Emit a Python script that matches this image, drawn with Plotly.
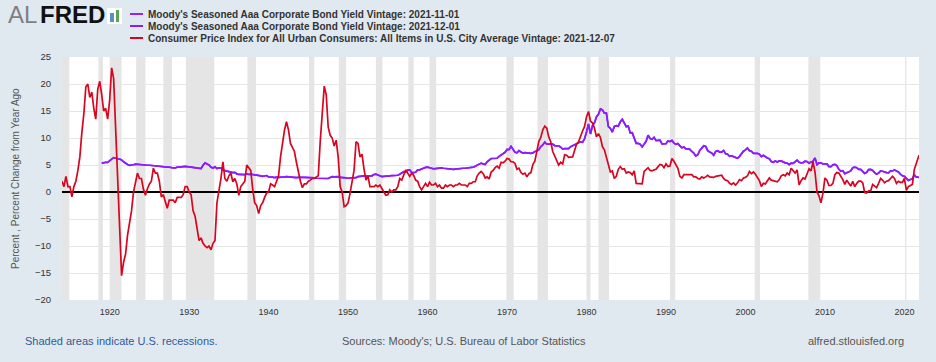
import pandas as pd
import plotly.graph_objects as go

# ---------------- data (quarterly readings: Jan, Apr, Jul, Oct) ----------------
cpi_1910s = [2.0, 1.0, 2.9, 1.0,  1.0, -0.9, 1.0, 2.0,  4.0, 6.5, 11.0, 14.5,
             19.5, 20.0, 17.5, 18.5,  15.5, 13.5, 19.0, 20.5,  18.0, 15.0, 15.5, 13.5]
cpi_1920s = [17.0, 23.0, 21.0, 11.5,  1.0, -9.0, -15.5, -13.0,  -11.5, -8.0, -5.5, -3.5,
             0.0, 1.5, 3.5, 2.5,  2.5, 0.5, -0.6, 0.6,  1.5, 2.0, 4.4, 3.5,
             3.5, 2.0, -0.9, -0.5,  -2.0, -3.0, -1.5, -1.5,  -1.5, -2.0, -1.0, -1.0,
             -1.0, -0.5, 1.0, 1.0]
cpi_1930s = [0.0, -0.5, -3.5, -4.5,  -7.0, -9.0, -8.5, -9.5,  -10.0, -10.3, -10.0, -10.7,
             -9.5, -9.0, -2.0, 0.0,  2.5, 5.6, 2.5, 2.0,  3.0, 3.5, 1.9, 2.5,
             1.5, -0.6, 1.0, 1.5,  2.0, 5.0, 4.5, 4.0,  0.5, -2.0, -2.5, -4.0,
             -2.5, -2.0, -1.0, -0.2]
cpi_1940s = [0.0, 1.5, 1.3, 1.0,  2.0, 3.0, 6.5, 9.5,  11.5, 13.0, 11.5, 9.0,
             8.1, 7.5, 5.5, 3.5,  2.0, 0.8, 1.5, 1.5,  2.0, 2.2, 2.5, 2.5,
             2.8, 3.0, 9.5, 14.5,  19.6, 18.0, 12.0, 10.5,  10.0, 8.5, 9.6, 6.5,
             1.0, 0.0, -2.7, -2.5]
cpi_1950s = [-2.0, -0.2, 2.0, 4.0,  9.3, 9.0, 6.5, 7.0,  4.3, 2.2, 3.0, 1.0,
             1.0, 1.0, 1.3, 1.0,  1.3, 0.5, 0.0, -0.6,  -0.5, 0.4, 0.0, 0.4,
             0.4, 1.0, 2.5, 2.2,  3.0, 4.1, 3.5, 2.9,  3.5, 3.1, 2.2, 2.0,
             1.0, 0.4, 1.0, 1.6]
cpi_1960s = [1.0, 1.8, 1.3, 1.3,  1.6, 1.0, 1.3, 0.7,  0.7, 1.3, 1.0, 1.3,
             1.3, 1.0, 1.3, 1.3,  1.6, 1.3, 1.3, 1.3,  1.0, 1.6, 1.6, 1.9,
             1.9, 3.0, 3.5, 3.8,  3.4, 2.6, 2.8, 2.4,  3.7, 4.0, 4.5, 4.8,
             4.4, 5.5, 5.4, 5.7]
cpi_1970s = [6.2, 6.1, 5.6, 5.6,  5.3, 4.2, 4.4, 3.6,  3.3, 3.5, 2.8, 3.4,
             3.6, 5.1, 5.7, 7.8,  9.4, 10.1, 11.5, 12.2,  11.8, 10.2, 9.3, 7.5,
             6.7, 6.1, 5.0, 5.5,  5.2, 6.9, 6.8, 6.4,  6.5, 6.5, 7.7, 8.9,
             9.3, 10.5, 11.3, 12.1]
cpi_1980s = [13.9, 14.9, 13.1, 12.8,  11.8, 10.2, 10.8, 10.1,  8.4, 7.8, 6.4, 5.3,
             3.7, 3.9, 2.5, 2.9,  4.2, 4.7, 4.2, 4.3,  3.5, 3.7, 3.6, 3.2,
             3.9, 1.6, 1.6, 1.5,  1.5, 3.8, 4.1, 4.5,  4.0, 3.9, 4.1, 4.2,
             4.7, 5.1, 5.0, 4.5]
cpi_1990s = [5.2, 4.7, 4.8, 6.2,  5.7, 4.9, 4.4, 2.9,  2.6, 3.2, 3.2, 3.2,
             3.3, 3.2, 2.8, 2.8,  2.5, 2.4, 2.8, 2.6,  2.8, 3.1, 2.8, 2.8,
             2.7, 2.9, 3.0, 3.0,  3.1, 2.5, 2.2, 2.1,  1.6, 1.4, 1.7, 1.3,
             1.7, 2.3, 2.1, 2.6]
cpi_2000s = [2.7, 3.0, 3.8, 3.4,  3.7, 3.3, 2.7, 2.1,  1.0, 1.6, 1.5, 2.0,
             2.6, 2.2, 2.1, 2.0,  1.9, 2.3, 3.0, 3.2,  3.0, 3.5, 3.2, 4.4,
             4.0, 3.5, 4.1, 1.3,  2.1, 2.6, 2.4, 3.5,  4.3, 3.9, 5.6, 3.7,
             0.0, -0.7, -2.0, -0.2]
cpi_2010s = [2.6, 2.2, 1.2, 1.2,  1.6, 3.2, 3.6, 3.5,  2.9, 2.3, 1.4, 2.2,
             1.6, 1.1, 2.0, 1.0,  1.6, 2.0, 2.0, 1.7,  -0.1, -0.2, 0.2, 0.2,
             1.4, 1.1, 0.8, 1.6,  2.5, 2.2, 1.7, 2.0,  2.1, 2.5, 2.9, 2.5,
             1.6, 2.0, 1.8, 1.8]
cpi_2020s = [2.5, 0.3, 1.0, 1.2,  1.4, 4.2, 5.4, 6.2,  6.8]

aaa_1910s = [5.35, 5.45, 5.5, 5.5]
aaa_1920s = [5.9, 6.1, 6.35, 6.2,  6.15, 6.1, 5.95, 5.6,  5.3, 5.1, 4.95, 4.95,
             5.05, 5.15, 5.1, 5.1,  5.05, 5.0, 4.95, 4.95,  4.95, 4.9, 4.9, 4.85,
             4.8, 4.75, 4.7, 4.7,  4.65, 4.6, 4.6, 4.5,  4.45, 4.45, 4.6, 4.6,
             4.6, 4.7, 4.75, 4.75]
aaa_1930s = [4.65, 4.6, 4.55, 4.5,  4.45, 4.35, 4.35, 4.95,  5.4, 5.2, 5.0, 4.6,
             4.45, 4.65, 4.35, 4.45,  4.45, 4.05, 3.95, 3.95,  3.75, 3.7, 3.6, 3.65,
             3.35, 3.25, 3.2, 3.15,  3.2, 3.35, 3.25, 3.3,  3.25, 3.25, 3.15, 3.05,
             3.0, 2.9, 2.95, 3.05]
aaa_1940s = [2.8, 2.8, 2.75, 2.65,  2.75, 2.7, 2.7, 2.75,  2.8, 2.85, 2.8, 2.8,
             2.8, 2.75, 2.65, 2.7,  2.75, 2.7, 2.7, 2.7,  2.65, 2.6, 2.6, 2.6,
             2.55, 2.55, 2.5, 2.6,  2.55, 2.55, 2.5, 2.7,  2.85, 2.8, 2.8, 2.85,
             2.7, 2.7, 2.65, 2.6]
aaa_1950s = [2.55, 2.6, 2.65, 2.65,  2.65, 2.85, 2.95, 2.95,  3.0, 2.95, 2.95, 3.0,
             3.0, 3.25, 3.3, 3.15,  2.95, 2.85, 2.9, 2.9,  2.95, 3.0, 3.05, 3.1,
             3.1, 3.1, 3.3, 3.5,  3.75, 3.7, 4.05, 4.1,  3.6, 3.6, 3.65, 4.1,
             4.1, 4.25, 4.45, 4.55]
aaa_1960s = [4.6, 4.45, 4.4, 4.3,  4.35, 4.4, 4.4, 4.45,  4.4, 4.35, 4.35, 4.25,
             4.2, 4.2, 4.25, 4.3,  4.4, 4.4, 4.4, 4.4,  4.45, 4.4, 4.5, 4.6,
             4.75, 5.0, 5.15, 5.35,  5.2, 5.1, 5.6, 5.9,  6.2, 6.2, 6.25, 6.25,
             6.6, 6.9, 7.1, 7.35]
aaa_1970s = [7.9, 7.85, 8.45, 8.0,  7.35, 7.25, 7.65, 7.4,  7.2, 7.3, 7.2, 7.2,
             7.15, 7.25, 7.5, 7.6,  7.85, 8.4, 8.7, 9.25,  8.85, 8.9, 8.85, 8.85,
             8.6, 8.55, 8.55, 8.3,  7.95, 8.05, 8.0, 8.05,  8.4, 8.6, 8.85, 8.9,
             9.25, 9.3, 9.2, 9.85]
aaa_1980s = [11.1, 12.6, 10.75, 12.3,  12.8, 13.9, 14.4, 15.4,  15.2, 14.6, 14.6, 12.1,
             11.8, 11.1, 12.15, 12.3,  12.2, 13.0, 13.45, 12.65,  12.1, 12.2, 10.95, 11.0,
             10.05, 9.0, 9.0, 8.85,  8.35, 8.85, 9.4, 10.5,  9.9, 9.75, 10.1, 9.5,
             9.6, 9.6, 8.9, 8.9]
aaa_1990s = [8.95, 9.45, 9.35, 9.55,  9.05, 8.85, 9.0, 8.55,  8.2, 8.35, 8.0, 8.0,
             7.9, 7.5, 7.2, 6.65,  6.9, 7.7, 8.1, 8.55,  8.45, 7.65, 7.4, 7.25,
             6.8, 7.5, 7.65, 7.4,  7.4, 7.7, 7.1, 7.0,  6.6, 6.7, 6.55, 6.4,
             6.25, 6.6, 7.2, 7.55]
aaa_2000s = [7.8, 8.15, 7.65, 7.55,  7.15, 7.15, 7.15, 7.0,  6.55, 6.8, 6.5, 6.3,
             6.15, 5.65, 5.5, 5.75,  5.55, 5.75, 5.75, 5.5,  5.4, 5.35, 5.05, 5.35,
             5.3, 5.6, 5.9, 5.5,  5.4, 5.45, 5.7, 5.65,  5.35, 5.55, 5.7, 6.3,
             5.05, 5.4, 5.4, 5.2]
aaa_2010s = [5.25, 5.2, 4.7, 4.7,  5.05, 5.1, 4.9, 4.2,  3.85, 3.95, 3.4, 3.6,
             3.8, 3.9, 4.5, 4.6,  4.5, 4.2, 4.2, 3.9,  3.45, 3.65, 4.15, 4.2,
             4.0, 3.6, 3.3, 3.5,  3.9, 3.85, 3.7, 3.6,  3.55, 3.9, 3.9, 4.1,
             3.9, 3.7, 3.3, 3.0]
aaa_2020s = [2.9, 2.45, 2.15, 2.3,  2.45, 3.15, 2.75, 2.75,  2.62]

recession_starts = ["1913-01-01", "1918-08-01", "1920-01-01", "1923-05-01", "1926-10-01",
                    "1929-08-01", "1937-05-01", "1945-02-01", "1948-11-01", "1953-07-01",
                    "1957-08-01", "1960-04-01", "1969-12-01", "1973-11-01", "1980-01-01",
                    "1981-07-01", "1990-07-01", "2001-03-01", "2007-12-01", "2020-02-01"]
recession_ends = ["1914-12-01", "1919-03-01", "1921-07-01", "1924-07-01", "1927-11-01",
                  "1933-03-01", "1938-06-01", "1945-10-01", "1949-10-01", "1954-05-01",
                  "1958-04-01", "1961-02-01", "1970-11-01", "1975-03-01", "1980-07-01",
                  "1982-11-01", "1991-03-01", "2001-11-01", "2009-06-01", "2020-04-01"]

tick_years = list(range(1920, 2030, 10))
y_ticks = list(range(-20, 30, 5))

series_names = [
    "Moody's Seasoned Aaa Corporate Bond Yield Vintage: 2021-11-01",
    "Moody's Seasoned Aaa Corporate Bond Yield Vintage: 2021-12-01",
    "Consumer Price Index for All Urban Consumers: All Items in U.S. City Average Vintage: 2021-12-07",
]

# ---------------- assemble ----------------
cpi_values = (cpi_1910s + cpi_1920s + cpi_1930s + cpi_1940s + cpi_1950s + cpi_1960s +
              cpi_1970s + cpi_1980s + cpi_1990s + cpi_2000s + cpi_2010s + cpi_2020s)
cpi_dates = list(pd.date_range("1914-01-01", periods=len(cpi_values) - 1, freq="QS")) + [pd.Timestamp("2021-11-01")]

aaa_values = (aaa_1910s + aaa_1920s + aaa_1930s + aaa_1940s + aaa_1950s + aaa_1960s +
              aaa_1970s + aaa_1980s + aaa_1990s + aaa_2000s + aaa_2010s + aaa_2020s)
aaa_dates = list(pd.date_range("1919-01-01", periods=len(aaa_values) - 1, freq="QS")) + [pd.Timestamp("2021-11-01")]

PURPLE1 = "#9224ff"
PURPLE2 = "#8a1cff"
RED = "#d9041f"

fig = go.Figure()
fig.add_trace(go.Scatter(x=aaa_dates[:-1], y=aaa_values[:-1], mode="lines",
                         line=dict(color=PURPLE1, width=1.7), name=series_names[0], showlegend=False))
fig.add_trace(go.Scatter(x=aaa_dates, y=aaa_values, mode="lines",
                         line=dict(color=PURPLE2, width=1.7), name=series_names[1], showlegend=False))
fig.add_trace(go.Scatter(x=cpi_dates, y=cpi_values, mode="lines",
                         line=dict(color=RED, width=1.7), name=series_names[2], showlegend=False))

# plot geometry in pixels
W, H = 936, 362
PL, PR, PT, PB = 62, 919, 57, 300


def px(x):
    return (x - PL) / (PR - PL)


def py(y):
    return (PB - y) / (PB - PT)


shapes = []
for s, e in zip(recession_starts, recession_ends):
    shapes.append(dict(type="rect", xref="x", yref="paper", x0=s, x1=e, y0=0, y1=1,
                       fillcolor="#e5e5e5", line=dict(width=0), layer="below"))

# legend swatches
for yy, col in zip([14, 26, 38], [PURPLE1, PURPLE2, RED]):
    shapes.append(dict(type="line", xref="paper", yref="paper", x0=px(130), x1=px(143),
                       y0=py(yy), y1=py(yy), line=dict(color=col, width=2)))

# logo icon
shapes.append(dict(type="rect", xref="paper", yref="paper", x0=px(107), x1=px(122),
                   y0=py(24), y1=py(8), fillcolor="#ffffff", line=dict(width=0)))
shapes.append(dict(type="rect", xref="paper", yref="paper", x0=px(110), x1=px(114),
                   y0=py(22), y1=py(13), fillcolor="#5a8fbf", line=dict(width=0)))
shapes.append(dict(type="rect", xref="paper", yref="paper", x0=px(116), x1=px(119),
                   y0=py(22), y1=py(10), fillcolor="#5aa353", line=dict(width=0)))

annotations = []
annotations.append(dict(text="AL", xref="paper", yref="paper", x=px(6), y=py(14),
                        xanchor="left", yanchor="middle", showarrow=False,
                        font=dict(family="Liberation Sans", size=24, color="#7f7f7f")))
annotations.append(dict(text="<b>FRED</b>", xref="paper", yref="paper", x=px(38), y=py(14),
                        xanchor="left", yanchor="middle", showarrow=False,
                        font=dict(family="Liberation Sans", size=24, color="#111111")))
for yy, name in zip([14, 26, 38], series_names):
    annotations.append(dict(text="<b>" + name + "</b>", xref="paper", yref="paper",
                            x=px(146), y=py(yy), xanchor="left", yanchor="middle", showarrow=False,
                            font=dict(family="Liberation Sans", size=10, color="#333333")))

annotations.append(dict(text="Percent , Percent Change from Year Ago", xref="paper", yref="paper",
                        x=px(15), y=py(179), xanchor="center", yanchor="middle", textangle=-90,
                        showarrow=False, font=dict(family="Liberation Sans", size=10, color="#555555")))
annotations.append(dict(text="Shaded areas indicate U.S. recessions.", xref="paper", yref="paper",
                        x=px(23), y=py(341), xanchor="left", yanchor="middle", showarrow=False,
                        font=dict(family="Liberation Sans", size=11, color="#2e5a9c")))
annotations.append(dict(text="Sources: Moody's; U.S. Bureau of Labor Statistics", xref="paper", yref="paper",
                        x=px(340), y=py(341), xanchor="left", yanchor="middle", showarrow=False,
                        font=dict(family="Liberation Sans", size=11, color="#555555")))
annotations.append(dict(text="alfred.stlouisfed.org", xref="paper", yref="paper",
                        x=px(906), y=py(341), xanchor="right", yanchor="middle", showarrow=False,
                        font=dict(family="Liberation Sans", size=11, color="#555555")))

fig.update_layout(
    width=W, height=H,
    margin=dict(l=PL, r=W - PR, t=PT, b=H - PB, pad=0),
    paper_bgcolor="#e1e9f0", plot_bgcolor="#ffffff",
    shapes=shapes, annotations=annotations, showlegend=False,
    xaxis=dict(type="date", range=["1914-01-01", "2021-11-01"],
               tickvals=[f"{y}-01-01" for y in tick_years], ticktext=[str(y) for y in tick_years],
               showgrid=False, zeroline=False, showline=False, ticks="",
               tickfont=dict(family="Liberation Sans", size=9, color="#333333"),
               ticklabelstandoff=5),
    yaxis=dict(range=[-20, 25], tickvals=y_ticks, showgrid=True, gridcolor="#e6e6e6", gridwidth=1,
               zeroline=True, zerolinecolor="#000000", zerolinewidth=1.5, showline=False, ticks="",
               tickfont=dict(family="Liberation Sans", size=9.5, color="#333333"),
               ticklabelstandoff=10),
)

fig.write_html("out.html", config={"displayModeBar": False})
with open("out.html", "r", encoding="utf-8") as f:
    html = f.read()
html = html.replace("<body>", '<body style="margin:0;padding:0;background:#e1e9f0;">', 1)
with open("out.html", "w", encoding="utf-8") as f:
    f.write(html)
